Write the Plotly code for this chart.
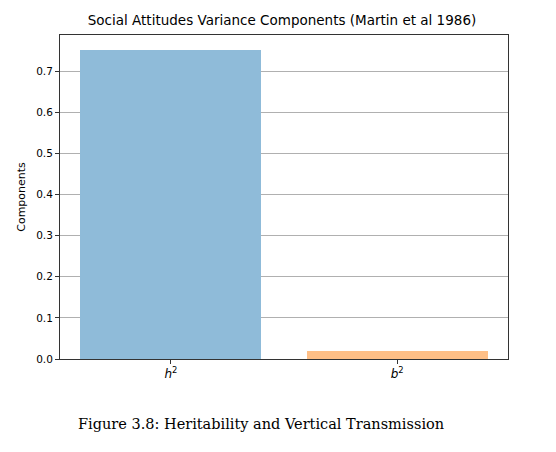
import plotly.graph_objects as go

# variance components from Martin et al 1986
components = ["<i>h</i><sup>2</sup>", "<i>b</i><sup>2</sup>"]
values = [0.75, 0.02]
bar_colors = ["#8fbbd9", "#ffbf86"]
y_ticks = [0.0, 0.1, 0.2, 0.3, 0.4, 0.5, 0.6, 0.7]

fig = go.Figure()
fig.add_trace(go.Bar(x=[0, 1], y=values, width=0.8,
                     marker=dict(color=bar_colors, line=dict(width=0))))

fig.update_xaxes(range=[-0.49, 1.49], tickvals=[0, 1], ticktext=components,
                 ticks="outside", ticklen=4, tickcolor="#333",
                 tickfont=dict(size=12),
                 showline=True, mirror=True, linecolor="#333", linewidth=1,
                 showgrid=False, zeroline=False)
fig.update_yaxes(range=[0, 0.7875], tickvals=y_ticks,
                 ticktext=[f"{t:.1f}" for t in y_ticks],
                 ticks="outside", ticklen=4, tickcolor="#333",
                 showline=True, mirror=True, linecolor="#333", linewidth=1,
                 showgrid=True, gridcolor="#b0b0b0", gridwidth=0.8,
                 zeroline=False,
                 title=dict(text="Components", standoff=8, font=dict(size=11)))

# page body adds an 8px offset, so the figure is a bit smaller than the window
fig.update_layout(
    width=548, height=444,
    margin=dict(l=47, r=48, t=27, b=93),
    plot_bgcolor="white", paper_bgcolor="white",
    font=dict(family="DejaVu Sans", size=10.5, color="black"),
    title=dict(text="Social Attitudes Variance Components (Martin et al 1986)",
               x=0.5, xanchor="center", y=0.973, yanchor="middle",
               font=dict(size=13.5)),
    showlegend=False,
    bargap=0,
    annotations=[dict(text="Figure 3.8: Heritability and Vertical Transmission",
                      xref="paper", yref="paper", x=0.449, y=-0.2,
                      xanchor="center", yanchor="middle", showarrow=False,
                      font=dict(family="DejaVu Serif", size=14.5))],
)

fig.write_html("out.html")
